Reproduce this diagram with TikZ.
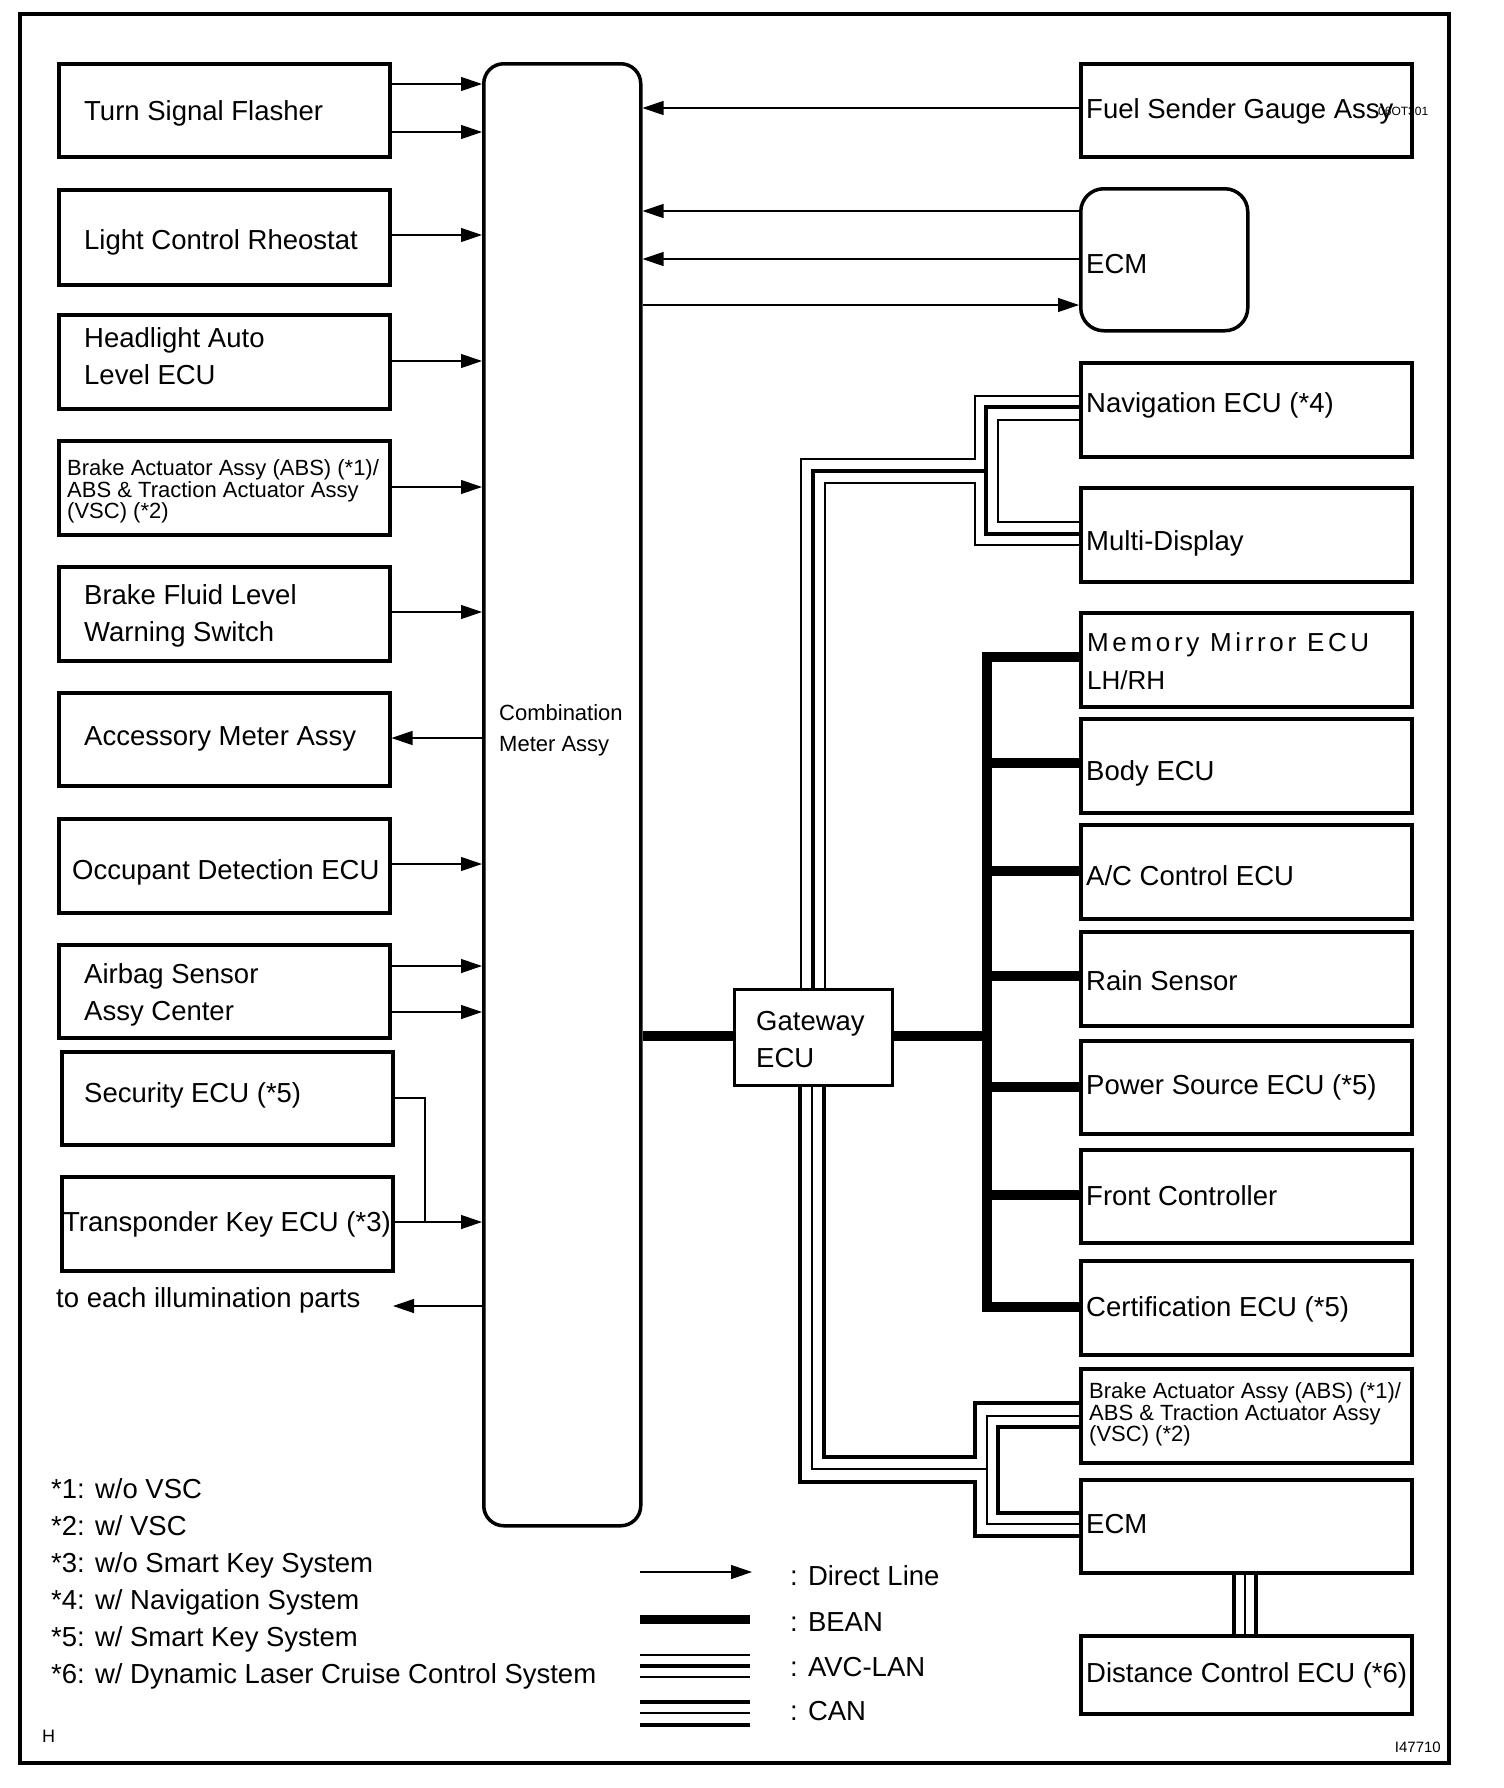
\documentclass[tikz,border=0pt]{standalone}
\usepackage{fontspec}
\setmainfont{Liberation Sans}
\usetikzlibrary{arrows.meta}
\begin{document}
\begin{tikzpicture}[x=1pt,y=-1pt,
 box/.style={draw, line width=3.5pt, rectangle, anchor=north west, inner sep=0pt},
 lbl/.style={anchor=west, inner sep=0pt, yshift=-3.5pt, font=\fontsize{27.5}{37}\selectfont, align=left},
 sml/.style={anchor=west, inner sep=0pt, yshift=-3.5pt, font=\fontsize{22}{21.7}\selectfont, align=left},
 direct/.style={line width=1.2pt, -{Triangle[length=21pt,width=14pt]}},
 plainl/.style={line width=1.2pt},
 bean/.style={line width=10pt},
 thinl/.style={line width=1.4pt},
 thickl/.style={line width=4.8pt},
]
\useasboundingbox (0,0) rectangle (1504,1788);
\fill[white] (0,0) rectangle (1504,1788);
\draw[line width=3.5pt] (20,14) rectangle (1449,1763);

% left boxes
\node[box,minimum width=331pt,minimum height=93pt] (tsf) at (57,62) {};
\node[box,minimum width=331pt,minimum height=95pt] (lcr) at (57,188) {};
\node[box,minimum width=331pt,minimum height=94pt] (hal) at (57,313) {};
\node[box,minimum width=331pt,minimum height=94pt] (bra) at (57,439) {};
\node[box,minimum width=331pt,minimum height=94pt] (bfl) at (57,565) {};
\node[box,minimum width=331pt,minimum height=93pt] (acc) at (57,691) {};
\node[box,minimum width=331pt,minimum height=94pt] (occ) at (57,817) {};
\node[box,minimum width=331pt,minimum height=93pt] (air) at (57,943) {};
\node[box,minimum width=331pt,minimum height=93pt] (sec) at (60,1050) {};
\node[box,minimum width=331pt,minimum height=94pt] (trk) at (60,1175) {};

\node[lbl] at (84,110) {Turn Signal Flasher};
\node[lbl] at (84,239) {Light Control Rheostat};
\node[lbl] at (84,353) {Headlight Auto\\Level ECU};
\node[sml] at (67,488) {Brake Actuator Assy (ABS) (*1)/\\ABS \& Traction Actuator Assy\\(VSC) (*2)};
\node[lbl] at (84,612) {Brake Fluid Level\\Warning Switch};
\node[lbl] at (84,735) {Accessory Meter Assy};
\node[lbl] at (72,869) {Occupant Detection ECU};
\node[lbl] at (84,991) {Airbag Sensor\\Assy Center};
\node[lbl] at (84,1092) {Security ECU (*5)};
\node[lbl] at (63,1221) {Transponder Key ECU (*3)};
\node[lbl] at (56,1297) {to each illumination parts};

% meter
\node[draw, line width=3.5pt, rounded corners=20pt, minimum width=157pt, minimum height=1462pt, anchor=north west, inner sep=0pt] (meter) at (482,62) {};
\node[sml, font=\fontsize{22}{31}\selectfont] at (499,727) {Combination\\Meter Assy};

% right boxes
\node[box,minimum width=331pt,minimum height=93pt] (fuel) at (1079,62) {};
\node[box,rounded corners=23pt,minimum width=167pt,minimum height=142pt] (ecma) at (1079,187) {};
\node[box,minimum width=331pt,minimum height=94pt] (nav) at (1079,361) {};
\node[box,minimum width=331pt,minimum height=94pt] (mdisp) at (1079,486) {};
\node[box,minimum width=331pt,minimum height=94pt] (mmir) at (1079,611) {};
\node[box,minimum width=331pt,minimum height=94pt] (body) at (1079,717) {};
\node[box,minimum width=331pt,minimum height=94pt] (ac) at (1079,823) {};
\node[box,minimum width=331pt,minimum height=94pt] (rain) at (1079,930) {};
\node[box,minimum width=331pt,minimum height=93pt] (pwr) at (1079,1039) {};
\node[box,minimum width=331pt,minimum height=93pt] (front) at (1079,1148) {};
\node[box,minimum width=331pt,minimum height=94pt] (cert) at (1079,1259) {};
\node[box,minimum width=331pt,minimum height=94pt] (brr) at (1079,1367) {};
\node[box,minimum width=331pt,minimum height=93pt] (ecmb) at (1079,1478) {};
\node[box,minimum width=331pt,minimum height=78pt] (dist) at (1079,1634) {};

\node[lbl] at (1086,108) {Fuel Sender Gauge Assy};
\node[anchor=west, inner sep=0pt, font=\fontsize{12}{12}\selectfont] at (1378,111) {06OT301};
\node[lbl] at (1086,261) {ECM};
\node[lbl] at (1086,402) {Navigation ECU (*4)};
\node[lbl] at (1086,540) {Multi-Display};
\node[lbl, font=\fontsize{26}{38}\selectfont] at (1087,658) {\addfontfeature{LetterSpace=14}Memory Mirror ECU\\LH/RH};
\node[lbl] at (1086,770) {Body ECU};
\node[lbl] at (1086,872) {A/C Control ECU};
\node[lbl] at (1086,977) {Rain Sensor};
\node[lbl] at (1086,1084) {Power Source ECU (*5)};
\node[lbl] at (1086,1192) {Front Controller};
\node[lbl] at (1086,1306) {Certification ECU (*5)};
\node[sml] at (1089,1411) {Brake Actuator Assy (ABS) (*1)/\\ABS \& Traction Actuator Assy\\(VSC) (*2)};
\node[lbl] at (1086,1521) {ECM};
\node[lbl] at (1086,1672) {Distance Control ECU (*6)};

% gateway
\node[box,line width=2.5pt,minimum width=158pt,minimum height=96pt] (gw) at (733,988) {};
\node[lbl] at (756,1036) {Gateway\\ECU};

% direct lines left
\draw[direct] (tsf.east |- 0,84) -- (meter.west |- 0,84);
\draw[direct] (tsf.east |- 0,132) -- (meter.west |- 0,132);
\draw[direct] (lcr.east |- 0,235) -- (meter.west |- 0,235);
\draw[direct] (hal.east |- 0,361) -- (meter.west |- 0,361);
\draw[direct] (bra.east |- 0,487) -- (meter.west |- 0,487);
\draw[direct] (bfl.east |- 0,612) -- (meter.west |- 0,612);
\draw[direct] (meter.west |- 0,738) -- (acc.east |- 0,738);
\draw[direct] (occ.east |- 0,864) -- (meter.west |- 0,864);
\draw[direct] (air.east |- 0,966) -- (meter.west |- 0,966);
\draw[direct] (air.east |- 0,1012) -- (meter.west |- 0,1012);
\draw[plainl] (sec.east |- 0,1098) -| (425,1222);
\draw[direct] (trk.east |- 0,1222) -- (meter.west |- 0,1222);
\coordinate (illum) at (393,1306);
\draw[direct] (meter.west |- 0,1306) -- (illum);

% direct lines right
\draw[direct] (fuel.west |- 0,108) -- (meter.east |- 0,108);
\draw[direct] (ecma.west |- 0,211) -- (meter.east |- 0,211);
\draw[direct] (ecma.west |- 0,259) -- (meter.east |- 0,259);
\draw[direct] (meter.east |- 0,305) -- (ecma.west |- 0,305);

% BEAN
\draw[bean] (meter.east |- 0,1036) -- (gw.west |- 0,1036);
\draw[bean] (gw.east |- 0,1036) -- (987,1036);
\draw[bean] (mmir.west |- 0,657) -| (987,1307) -- (cert.west |- 0,1307);
\foreach \n/\y in {body/763, ac/871, rain/976, pwr/1087, front/1195}
  \draw[bean] (987,\y) -- (\n.west |- 0,\y);

% AVC-LAN
\draw[thinl] (gw.north -| 801,0) |- (975,459) |- (nav.west |- 0,396);
\draw[thickl] (gw.north -| 813,0) |- (986,471);
\draw[thickl] (nav.west |- 0,407) -| (986,534) -- (mdisp.west |- 0,534);
\draw[thinl] (gw.north -| 825,0) |- (975,483) |- (mdisp.west |- 0,545);
\draw[thinl] (nav.west |- 0,420) -| (998,522) -- (mdisp.west |- 0,522);

% CAN
\draw[thickl] (gw.south -| 800,0) |- (975,1482) |- (ecmb.west |- 0,1536);
\draw[thinl] (gw.south -| 812,0) |- (987,1469);
\draw[thinl] (brr.west |- 0,1416) -| (987,1524) -- (ecmb.west |- 0,1524);
\draw[thickl] (gw.south -| 824,0) |- (975,1457) |- (brr.west |- 0,1403);
\draw[thickl] (brr.west |- 0,1427) -| (998,1513) -- (ecmb.west |- 0,1513);
\draw[thickl] (ecmb.south -| 1234,0) -- (dist.north -| 1234,0);
\draw[thinl] (ecmb.south -| 1245,0) -- (dist.north -| 1245,0);
\draw[thickl] (ecmb.south -| 1256,0) -- (dist.north -| 1256,0);

% legend
\coordinate (la) at (640,1572); \coordinate (lb) at (752,1572);
\draw[direct] (la) -- (lb);
\draw[line width=9.5pt] (640,1619.5) -- (750,1619.5);
\draw[thinl] (640,1655) -- (750,1655);
\draw[thickl] (640,1666) -- (750,1666);
\draw[thinl] (640,1677) -- (750,1677);
\draw[thickl] (640,1702) -- (750,1702);
\draw[thinl] (640,1713) -- (750,1713);
\draw[thickl] (640,1725) -- (750,1725);
\node[lbl] at (790,1572) {: Direct Line};
\node[lbl] at (790,1619) {: BEAN};
\node[lbl] at (790,1664) {: AVC-LAN};
\node[lbl] at (790,1708) {: CAN};

% footnotes
\node[lbl] at (51,1580) {*1: w/o VSC\\*2: w/ VSC\\*3: w/o Smart Key System\\*4: w/ Navigation System\\*5: w/ Smart Key System\\*6: w/ Dynamic Laser Cruise Control System};
\node[anchor=west, inner sep=0pt, font=\fontsize{18}{18}\selectfont] at (42,1736) {H};
\node[anchor=east, inner sep=0pt, font=\fontsize{15}{15}\selectfont] at (1441,1747) {I47710};
\end{tikzpicture}
\end{document}
